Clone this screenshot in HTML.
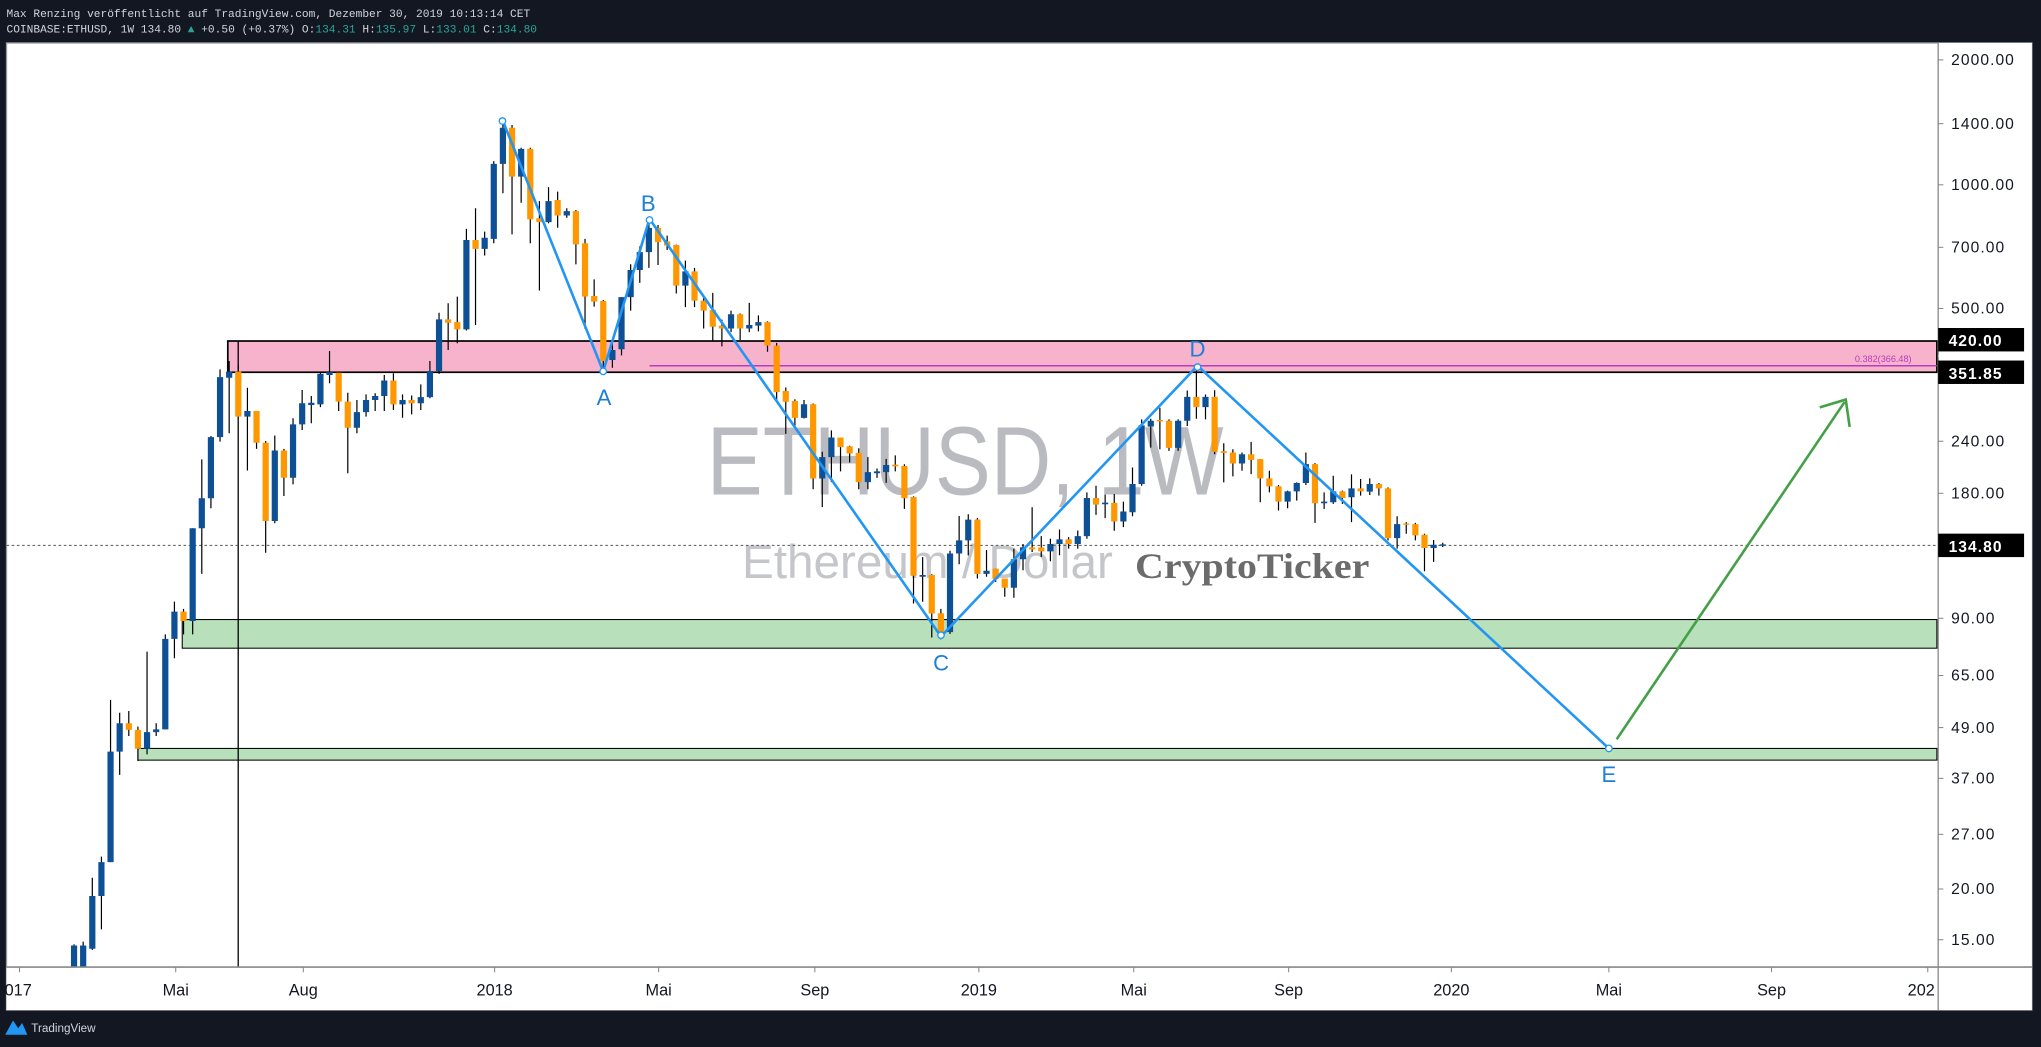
<!DOCTYPE html>
<html><head><meta charset="utf-8"><style>
html,body{margin:0;padding:0;background:#131722;}
svg{display:block;}
.w{fill:none;stroke:#000;stroke-width:1.2;vector-effect:non-scaling-stroke;}
.b{fill:none;stroke:#0d5095;stroke-width:6.2;vector-effect:non-scaling-stroke;}
.o{fill:none;stroke:#ff9800;stroke-width:6.2;vector-effect:non-scaling-stroke;}
</style></head><body>
<svg xmlns="http://www.w3.org/2000/svg" width="2041" height="1047" viewBox="0 0 1568 804.4" preserveAspectRatio="none">
<rect x="0" y="0" width="1568" height="804.4" fill="#131722"/>
<text x="5" y="13" font-family="Liberation Mono, monospace" font-size="8.6" fill="#d1d4dc">Max Renzing veröffentlicht auf TradingView.com, Dezember 30, 2019 10:13:14 CET</text>
<text x="5" y="25" font-family="Liberation Mono, monospace" font-size="8.6" fill="#d1d4dc">COINBASE:ETHUSD, 1W 134.80 <tspan fill="#26a69a">▲</tspan> +0.50 (+0.37%) O:<tspan fill="#26a69a">134.31</tspan> H:<tspan fill="#26a69a">135.97</tspan> L:<tspan fill="#26a69a">133.01</tspan> C:<tspan fill="#26a69a">134.80</tspan></text>
<rect x="5" y="33" width="1556" height="743" fill="#ffffff" stroke="#9598a1" stroke-width="1"/>
<text x="543" y="380" font-family="Liberation Sans, sans-serif" font-size="75" fill="#b9bbc0" textLength="397" lengthAdjust="spacingAndGlyphs">ETHUSD, 1W</text>
<text x="570" y="444" font-family="Liberation Sans, sans-serif" font-size="36" fill="#c4c6ca" textLength="285" lengthAdjust="spacingAndGlyphs">Ethereum / Dollar</text>
<rect x="175" y="262" width="1313" height="24" fill="#f7b3cb" stroke="#000" stroke-width="1.3"/>
<line x1="499" y1="281" x2="1488" y2="281" stroke="#b53dc0" stroke-width="1.2"/>
<text x="1425" y="278" font-family="Liberation Sans, sans-serif" font-size="7" fill="#b53dc0">0.382(366.48)</text>
<rect x="140" y="476" width="1348" height="22" fill="#b8e0ba" stroke="#000" stroke-width="0.8"/>
<rect x="106" y="575" width="1382" height="9" fill="#b8e0ba" stroke="#000" stroke-width="0.8"/>
<line x1="183" y1="262" x2="183" y2="743" stroke="#000" stroke-width="1"/>
<line x1="5" y1="419" x2="1488" y2="419" stroke="#555" stroke-width="0.7" stroke-dasharray="2,2"/>
<g transform="translate(49.88,76.8) scale(7.01,0.4268)">
<path class="w" d="M1 1520V1560M2 1515V1560M3 1400V1530M4 1362V1493M5 1080V1372M6 1103V1215M7 1100V1145M8 1128V1190M9 993V1178M10 1122V1145M11 962V1133M12 903V1005M13 916V962M14 771V962M15 647V853M16 605V735M17 485V615M18 470V600M19 478V570M20 518V667M21 560V628M22 614V815M23 604V762M24 628V713M25 573V692M26 522V594M27 533V582M28 490V553M29 452V510M30 491V560M31 527V672M32 540V600M33 530V570M34 528V560M35 495V560M36 492V558M37 530V572M38 532V566M39 512V558M40 470V537M41 383V493M42 366V450M43 354V438M44 232V415M45 195V405M46 237V280M47 110V258M48 35V168M49 45V242M50 86V185M51 86V258M52 182V343M53 157V222M54 165V230M55 195V212M56 198V296M57 250V412M58 323V372M59 360V490M60 435V482"/>
<path class="b" d="M1 1522V1560M2 1522V1560M3 1433V1528M4 1372V1433M5 1173V1372M6 1122V1173M9 1138V1168M10 1133V1138M11 970V1133M12 921V970M14 771V938M15 717V771M16 607V717M17 499V607M18 489V500M20 560V570M23 631V758M25 584V680M26 546V584M27 545V549M28 493V548M29 490V495M32 562V590M33 540V562M34 533V540M35 505V533M37 540V548M39 535V546M40 488V535M41 395V488M44 252V413M46 248V268M47 115V250M48 50V115M50 88V138M53 182V220M55 200V208M60 450V468"/>
<path class="o" d="M7 1122V1134M8 1134V1168M13 921V938M19 489V570M21 560V617M22 617V758M24 631V680M30 491V543M31 543V590M36 505V548M38 540V546M42 395V401M43 400V413M45 252V268M49 50V138M51 88V215M52 213V220M54 180V208M56 200V260M57 258V354M58 353V363M59 362V470"/>
</g>
<g transform="translate(49.88,76.8) scale(7.01,0.2744)">
<path class="w" d="M61 552V715M62 460V590M63 410V512M64 330V470M65 350V462M66 380V420M67 405V542M68 450V580M69 470V580M70 550V640M71 540V675M72 615V690M73 590V650M74 598V672M75 568V650M76 603V648M77 620V705M78 680V840M79 805V935M80 838V918M81 840V892M82 850V1090M83 985V1140M84 925V1070M85 945V1040M86 968V1015M87 975V1090M88 1000V1090M89 1032V1058M90 1005V1072M91 995V1040M92 1020V1145M93 1110V1410M94 1280V1405M95 1328V1505M96 1425V1510M97 1262V1495M98 1165V1300M99 1160V1275M100 1170V1340M101 1260V1335"/>
<path class="b" d="M61 552V698M62 476V552M63 426V476M64 358V426M68 480V520M73 600V640M75 630V640M76 622V632M81 852V890M83 1000V1060M84 945V1000M88 1042V1070M89 1040V1045M90 1022V1042M94 1330V1335M97 1270V1490M98 1233V1270M99 1175V1233M101 1318V1327"/>
<path class="o" d="M65 358V398M66 396V408M67 406V520M69 480V562M70 562V590M71 588V635M72 632V640M74 600V640M77 622V688M78 688V818M79 815V845M80 843V890M82 852V1060M85 945V972M86 970V990M87 988V1070M91 1021V1026M92 1025V1115M93 1112V1332M95 1330V1438M96 1437V1490M100 1175V1327"/>
</g>
<g transform="translate(49.88,245.8) scale(7.01,0.2547)">
<path class="w" d="M102 750V790M103 780V835M104 690V838M105 676V755M106 565V700M107 652V715M108 660V728M109 632V710M110 655V690M111 635V690M112 520V660M113 500V588M114 527V598M115 525V636M116 548V625M117 445V592M118 300V500M119 298V385M120 265V390M121 300V395M122 300V395M123 213V320M124 138V298M125 225V300M126 212V405M127 372V490M128 390V472M129 400V455M130 368V465M131 420V550M132 455V520M133 498V575M134 515V568M135 490V545M136 400V498M137 432V612M138 520V570M139 470V555M140 515V555M141 466V610M142 480V530M143 478V528M144 492V530M145 505V665M146 592V690M147 610V645M148 612V665M149 645V758M150 664V730M151 672V685"/>
<path class="b" d="M104 722V808M105 686V722M108 676V698M109 662V676M111 652V676M112 537V652M114 551V556M116 578V608M117 495V580M118 318V495M119 304V322M122 304V386M123 232V304M125 232V263M129 405V433M134 517V548M135 492V517M136 435V492M138 548V553M139 517V550M141 508V535M143 495V518M146 616V658M150 678V688M151 677V681"/>
<path class="o" d="M102 750V782M103 780V808M106 686V692M107 686V698M110 662V676M113 537V557M115 552V608M120 302V306M121 304V386M124 232V263M126 232V398M127 396V401M128 400V433M130 405V422M131 420V478M132 478V502M133 502V548M137 435V553M140 517V537M142 508V517M144 495V508M145 508V658M147 614V618M148 616V650M149 648V688"/>
</g>
<polyline points="386,92 463.4,285.3 499,168.2 722.9,489 920,281 1236,575" fill="none" stroke="#2196f3" stroke-width="2"/>
<g fill="#fff" stroke="#2196f3" stroke-width="1">
<circle cx="386" cy="93" r="2.5"/><circle cx="463.4" cy="285.3" r="2.5"/><circle cx="499" cy="169" r="2.5"/><circle cx="722.9" cy="488" r="2.5"/><circle cx="920" cy="282" r="2.5"/><circle cx="1236" cy="575" r="2.5"/>
</g>
<g font-family="Liberation Sans, sans-serif" font-size="17" fill="#1e7fd8" text-anchor="middle">
<text x="464" y="311">A</text><text x="498" y="162">B</text><text x="723" y="515">C</text><text x="920" y="274">D</text><text x="1236" y="601">E</text>
</g>
<line x1="1242" y1="568" x2="1417" y2="309" stroke="#43a047" stroke-width="2"/>
<polyline points="1398,313 1418,307 1421,328" fill="none" stroke="#43a047" stroke-width="2"/>
<text x="872" y="444" font-family="Liberation Serif, serif" font-weight="bold" font-size="28" fill="#6b6b6b" textLength="180" lengthAdjust="spacingAndGlyphs">CryptoTicker</text>
<rect x="1489" y="33" width="72" height="743" fill="#fff"/>
<rect x="5" y="743" width="1484" height="33" fill="#fff"/>
<line x1="1489" y1="33" x2="1489" y2="776" stroke="#888" stroke-width="1"/>
<line x1="5" y1="743" x2="1561" y2="743" stroke="#888" stroke-width="1.2"/>
<g font-family="Liberation Sans, sans-serif" font-size="12" fill="#131722" letter-spacing="0.8">
<text x="1499" y="50">2000.00</text><text x="1499" y="99">1400.00</text><text x="1499" y="146">1000.00</text><text x="1499" y="194">700.00</text><text x="1499" y="241">500.00</text><text x="1499" y="343">240.00</text><text x="1499" y="383">180.00</text><text x="1499" y="479">90.00</text><text x="1499" y="523">65.00</text><text x="1499" y="563">49.00</text><text x="1499" y="602">37.00</text><text x="1499" y="645">27.00</text><text x="1499" y="687">20.00</text><text x="1499" y="726">15.00</text>
</g>
<g stroke="#888" stroke-width="0.8">
<line x1="1489" y1="46" x2="1493" y2="46"/><line x1="1489" y1="95" x2="1493" y2="95"/><line x1="1489" y1="142" x2="1493" y2="142"/><line x1="1489" y1="190" x2="1493" y2="190"/><line x1="1489" y1="237" x2="1493" y2="237"/><line x1="1489" y1="339" x2="1493" y2="339"/><line x1="1489" y1="379" x2="1493" y2="379"/><line x1="1489" y1="475" x2="1493" y2="475"/><line x1="1489" y1="519" x2="1493" y2="519"/><line x1="1489" y1="559" x2="1493" y2="559"/><line x1="1489" y1="598" x2="1493" y2="598"/><line x1="1489" y1="641" x2="1493" y2="641"/><line x1="1489" y1="683" x2="1493" y2="683"/><line x1="1489" y1="722" x2="1493" y2="722"/>
</g>
<rect x="1489" y="252" width="66" height="18" fill="#000"/>
<rect x="1489" y="277" width="66" height="18" fill="#000"/>
<rect x="1489" y="410" width="66" height="18" fill="#000"/>
<line x1="1489" y1="273.5" x2="1555" y2="273.5" stroke="#fff" stroke-width="0.6"/>
<g font-family="Liberation Sans, sans-serif" font-size="12" fill="#fff" font-weight="bold" letter-spacing="0.8">
<text x="1497" y="266">420.00</text><text x="1497" y="291">351.85</text><text x="1497" y="424">134.80</text>
</g>
<g font-family="Liberation Sans, sans-serif" font-size="12.5" fill="#131722" text-anchor="middle">
<text x="14" y="765">017</text><text x="135" y="765">Mai</text><text x="233" y="765">Aug</text><text x="380" y="765">2018</text><text x="506" y="765">Mai</text><text x="626" y="765">Sep</text><text x="752" y="765">2019</text><text x="871" y="765">Mai</text><text x="990" y="765">Sep</text><text x="1115" y="765">2020</text><text x="1236" y="765">Mai</text><text x="1361" y="765">Sep</text><text x="1476" y="765">202</text>
</g>
<g stroke="#888" stroke-width="0.8">
<line x1="15" y1="743" x2="15" y2="747"/><line x1="135" y1="743" x2="135" y2="747"/><line x1="233" y1="743" x2="233" y2="747"/><line x1="380" y1="743" x2="380" y2="747"/><line x1="506" y1="743" x2="506" y2="747"/><line x1="626" y1="743" x2="626" y2="747"/><line x1="752" y1="743" x2="752" y2="747"/><line x1="871" y1="743" x2="871" y2="747"/><line x1="990" y1="743" x2="990" y2="747"/><line x1="1115" y1="743" x2="1115" y2="747"/><line x1="1236" y1="743" x2="1236" y2="747"/><line x1="1361" y1="743" x2="1361" y2="747"/><line x1="1481" y1="743" x2="1481" y2="747"/>
</g>
<path d="M4,795 L10,784 L14,790 L17,786 L21,795 Z" fill="#2196f3"/>
<text x="24" y="793" font-family="Liberation Sans, sans-serif" font-size="9" fill="#d1d4dc">TradingView</text>
</svg>
</body></html>
